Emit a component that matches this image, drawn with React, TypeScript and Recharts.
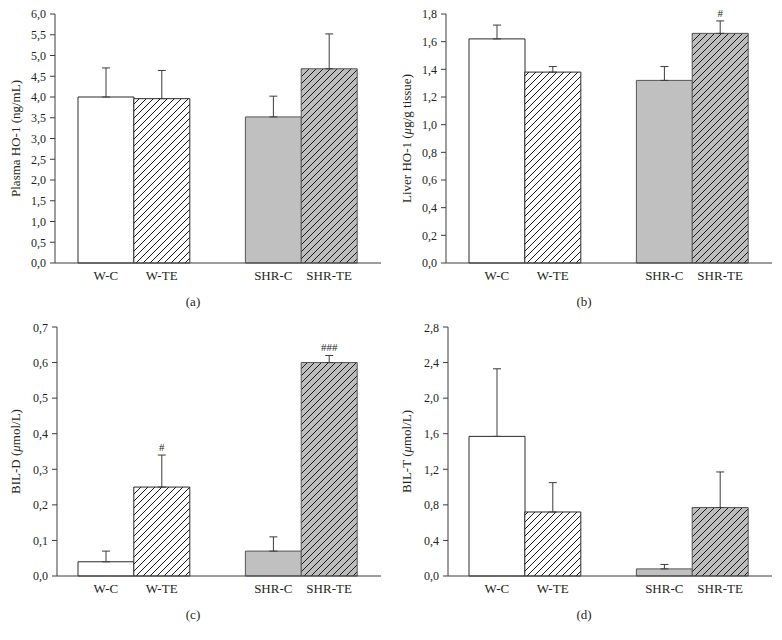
import React from 'react'
import { BarChart, Bar, XAxis, YAxis, ErrorBar, Cell, LabelList } from 'recharts'

const groups = ['W-C', 'W-TE', '', 'SHR-C', 'SHR-TE']

// (a) plasma HO-1, ng/mL  (the empty slot is the gap between the two strains)
const plasmaMean = [4.0, 3.96, 0, 3.52, 4.68]
const plasmaErr = [0.7, 0.68, null, 0.5, 0.84]
const plasmaSig = ['', '', '', '', '']
const plasmaTicks = [0, 0.5, 1, 1.5, 2, 2.5, 3, 3.5, 4, 4.5, 5, 5.5, 6]

// (b) liver HO-1, ug/g tissue
const liverMean = [1.62, 1.38, 0, 1.32, 1.66]
const liverErr = [0.1, 0.04, null, 0.1, 0.09]
const liverSig = ['', '', '', '', '#']
const liverTicks = [0, 0.2, 0.4, 0.6, 0.8, 1.0, 1.2, 1.4, 1.6, 1.8]

// (c) direct bilirubin, umol/L
const bildMean = [0.04, 0.25, 0, 0.07, 0.6]
const bildErr = [0.03, 0.09, null, 0.04, 0.02]
const bildSig = ['', '#', '', '', '###']
const bildTicks = [0, 0.1, 0.2, 0.3, 0.4, 0.5, 0.6, 0.7]

// (d) total bilirubin, umol/L
const biltMean = [1.57, 0.72, 0, 0.08, 0.77]
const biltErr = [0.76, 0.33, null, 0.05, 0.4]
const biltSig = ['', '', '', '', '']
const biltTicks = [0, 0.4, 0.8, 1.2, 1.6, 2.0, 2.4, 2.8]

const FONT = "'Liberation Serif', 'Times New Roman', serif"
const TEXT = '#231f20'
const AXIS = '#3c3c3c'

function YTitle({ viewBox, cx, pre, post }: any) {
  const cy = viewBox.y + viewBox.height / 2
  return (
    <text
      x={cx}
      y={cy}
      transform={`rotate(-90, ${cx}, ${cy})`}
      textAnchor="middle"
      dominantBaseline="central"
      fontFamily={FONT}
      fontSize={13}
      fill={TEXT}
    >
      {pre}
      {post !== undefined && <tspan fontStyle="italic">μ</tspan>}
      {post}
    </text>
  )
}

interface PanelProps {
  id: string
  left: number
  top: number
  mean: number[]
  err: (number | null)[]
  sig: string[]
  ticks: number[]
  max: number
  titlePre: string
  titlePost?: string
  caption: string
  marginTop: number
  marginLeft: number
  padLeft: number
}

function Panel({ id, left, top, mean, err, sig, ticks, max, titlePre, titlePost, caption, marginTop, marginLeft, padLeft }: PanelProps) {
  const data = groups.map((g, i) => ({
    group: g,
    mean: mean[i],
    err: err[i] == null ? undefined : [0, err[i]],
  }))
  const fills = ['#ffffff', `url(#${id}-hw)`, 'none', '#c0c0c0', `url(#${id}-hg)`]
  const strokes = ['#2a2a2a', '#2a2a2a', 'none', '#555555', '#555555']

  // '#' marks sit just above the top of the error bar
  const renderSig = (p: any) => {
    const i = groups.indexOf(p.value)
    if (i < 0 || !sig[i]) return null
    const v = mean[i]
    const e = err[i] as number
    const topY = p.y - (e * p.height) / v
    return (
      <text
        key={`s${i}`}
        x={p.x + p.width / 2}
        y={topY - 8}
        textAnchor="middle"
        dominantBaseline="central"
        fontFamily={FONT}
        fontSize={11}
        fill={TEXT}
      >
        {sig[i]}
      </text>
    )
  }

  return (
    <div style={{ position: 'absolute', left, top, width: 391, height: 320 }}>
      <BarChart
        width={391}
        height={320}
        data={data}
        barCategoryGap={0}
        margin={{ top: marginTop, right: 10, left: marginLeft, bottom: 320 - marginTop - 249 - 30 }}
      >
        <defs>
          <pattern id={`${id}-hw`} patternUnits="userSpaceOnUse" width={7} height={7}>
            <rect width={7} height={7} fill="#ffffff" />
            <path d="M-1,1 l2,-2 M0,7 l7,-7 M6,8 l2,-2" stroke="#1a1a1a" strokeWidth={1} />
          </pattern>
          <pattern id={`${id}-hg`} patternUnits="userSpaceOnUse" width={7} height={7}>
            <rect width={7} height={7} fill="#bdbdbd" />
            <path d="M-1,1 l2,-2 M0,7 l7,-7 M6,8 l2,-2" stroke="#1a1a1a" strokeWidth={1} />
          </pattern>
        </defs>
        <XAxis
          dataKey="group"
          height={30}
          interval={0}
          tickLine={false}
          axisLine={{ stroke: AXIS }}
          padding={{ left: padLeft, right: 24 }}
          tick={{ fontFamily: FONT, fontSize: 13, fill: TEXT }}
        />
        <YAxis
          width={40}
          domain={[0, max]}
          ticks={ticks}
          tickSize={5}
          tickMargin={4}
          axisLine={{ stroke: AXIS }}
          tickLine={{ stroke: AXIS }}
          tickFormatter={(v: number) => v.toFixed(1).replace('.', ',')}
          tick={{ fontFamily: FONT, fontSize: 12, fill: TEXT }}
          label={<YTitle cx={15} pre={titlePre} post={titlePost} />}
        />
        <Bar dataKey="mean" isAnimationActive={false} strokeWidth={1}>
          {data.map((d, i) => (
            <Cell key={d.group + i} fill={fills[i]} stroke={strokes[i]} />
          ))}
          <ErrorBar dataKey="err" width={4} stroke={AXIS} strokeWidth={1} direction="y" />
          <LabelList dataKey="group" content={renderSig} />
        </Bar>
      </BarChart>
      <div
        style={{
          position: 'absolute',
          left: 0,
          width: 386,
          top: marginTop + 281,
          lineHeight: '14px',
          textAlign: 'center',
          fontFamily: FONT,
          fontSize: 13,
          color: TEXT,
        }}
      >
        {caption}
      </div>
    </div>
  )
}

export default function App() {
  return (
    <div style={{ position: 'absolute', left: 0, top: 0, width: 782, height: 640, background: '#fff' }}>
      <Panel id="pa" left={0} top={0} mean={plasmaMean} err={plasmaErr} sig={plasmaSig} ticks={plasmaTicks} max={6}
        titlePre="Plasma HO-1 (ng/mL)" caption="(a)" marginTop={14} marginLeft={15} padLeft={23} />
      <Panel id="pb" left={391} top={0} mean={liverMean} err={liverErr} sig={liverSig} ticks={liverTicks} max={1.8}
        titlePre="Liver HO-1 (" titlePost="g/g tissue)" caption="(b)" marginTop={14} marginLeft={15} padLeft={23} />
      <Panel id="pc" left={0} top={320} mean={bildMean} err={bildErr} sig={bildSig} ticks={bildTicks} max={0.7}
        titlePre="BIL-D (" titlePost="mol/L)" caption="(c)" marginTop={7} marginLeft={17} padLeft={21} />
      <Panel id="pd" left={391} top={320} mean={biltMean} err={biltErr} sig={biltSig} ticks={biltTicks} max={2.8}
        titlePre="BIL-T (" titlePost="mol/L)" caption="(d)" marginTop={7} marginLeft={17} padLeft={21} />
    </div>
  )
}
